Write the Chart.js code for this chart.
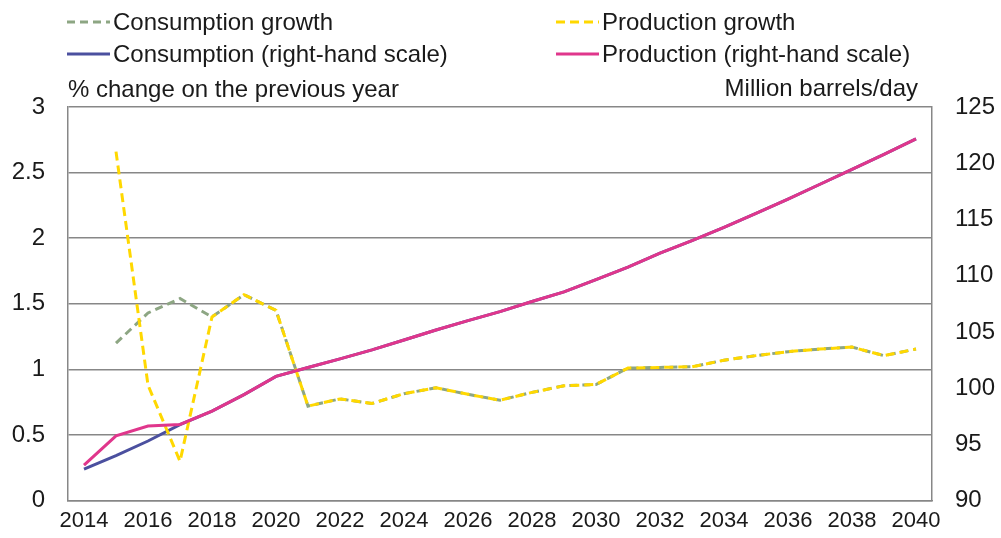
<!DOCTYPE html>
<html>
<head>
<meta charset="utf-8">
<script src="https://cdn.jsdelivr.net/npm/chart.js@4.4.1/dist/chart.umd.min.js"></script>
<style>
  html, body { margin: 0; padding: 0; background: #fff; }
  #wrap { width: 1001px; height: 538px; }
</style>
</head>
<body>
<div id="wrap"><canvas id="oilChart" width="1001" height="538"></canvas></div>
<script>
// categories
const years = ['2014', '2015', '2016', '2017', '2018', '2019', '2020', '2021', '2022',
  '2023', '2024', '2025', '2026', '2027', '2028', '2029', '2030', '2031', '2032',
  '2033', '2034', '2035', '2036', '2037', '2038', '2039', '2040'];
const shownYears = ['2014', '2016', '2018', '2020', '2022', '2024', '2026', '2028',
  '2030', '2032', '2034', '2036', '2038', '2040'];

// % change on the previous year (left scale)
const consumptionGrowth = [null, 1.20, 1.43, 1.54, 1.40, 1.57, 1.45, 0.72, 0.775, 0.74,
  0.815, 0.86, 0.81, 0.765, 0.825, 0.875, 0.885, 1.01, 1.015, 1.02, 1.07, 1.105,
  1.135, 1.155, 1.17, 1.105, 1.155];
const productionGrowth = [null, 2.66, 0.88, 0.30, 1.40, 1.57, 1.45, 0.72, 0.775, 0.74,
  0.815, 0.86, 0.81, 0.765, 0.825, 0.875, 0.885, 1.01, 1.015, 1.02, 1.07, 1.105,
  1.135, 1.155, 1.17, 1.105, 1.155];

// million barrels/day (right scale)
const consumption = [92.8, 94.0, 95.3, 96.75, 97.95, 99.42, 101.05, 101.84, 102.6, 103.4,
  104.28, 105.17, 106.0, 106.8, 107.7, 108.56, 109.65, 110.77, 112.0, 113.12, 114.3,
  115.54, 116.8, 118.13, 119.46, 120.78, 122.17];
const production = [93.15, 95.75, 96.63, 96.77, 97.95, 99.42, 101.05, 101.84, 102.6, 103.4,
  104.28, 105.17, 106.0, 106.8, 107.7, 108.56, 109.65, 110.77, 112.0, 113.12, 114.3,
  115.54, 116.8, 118.13, 119.46, 120.78, 122.17];

const FONT = "'Liberation Sans', Arial, sans-serif";
const TEXT = '#1a1a1a';
const GRID = '#878787';

// two-column legend at the top, drawn from the datasets themselves
const legendPlugin = {
  id: 'gridLegend',
  afterDraw(chart) {
    const ctx = chart.ctx;
    const cols = [67, 556];
    const rows = [22, 54];
    ctx.save();
    ctx.font = '24px ' + FONT;
    ctx.textBaseline = 'middle';
    chart.data.datasets.forEach((ds, i) => {
      const x = cols[i % 2];
      const y = rows[Math.floor(i / 2)];
      ctx.beginPath();
      ctx.strokeStyle = ds.borderColor;
      ctx.lineWidth = ds.borderWidth;
      ctx.setLineDash(ds.borderDash || []);
      ctx.moveTo(x, y);
      ctx.lineTo(x + 43, y);
      ctx.stroke();
      ctx.setLineDash([]);
      ctx.fillStyle = TEXT;
      ctx.textAlign = 'left';
      ctx.fillText(ds.label, x + 46, y + 1);
    });
    ctx.restore();
  }
};

// unit captions above the plot
const captionPlugin = {
  id: 'captions',
  afterDraw(chart) {
    const ctx = chart.ctx;
    const area = chart.chartArea;
    ctx.save();
    ctx.font = '24px ' + FONT;
    ctx.fillStyle = TEXT;
    ctx.textBaseline = 'middle';
    ctx.textAlign = 'left';
    ctx.fillText('% change on the previous year', area.left, 90);
    ctx.textAlign = 'right';
    ctx.fillText('Million barrels/day', area.right - 14, 89);
    ctx.restore();
  }
};

new Chart(document.getElementById('oilChart'), {
  type: 'line',
  data: {
    labels: years,
    datasets: [
      {
        label: 'Consumption growth',
        data: consumptionGrowth,
        yAxisID: 'y',
        borderColor: '#8DA683',
        borderDash: [8, 5],
        borderWidth: 3,
        order: 3
      },
      {
        label: 'Production growth',
        data: productionGrowth,
        yAxisID: 'y',
        borderColor: '#FFD800',
        borderDash: [9, 5],
        borderWidth: 3,
        order: 1
      },
      {
        label: 'Consumption (right-hand scale)',
        data: consumption,
        yAxisID: 'y2',
        borderColor: '#4B509F',
        borderWidth: 3,
        order: 2
      },
      {
        label: 'Production (right-hand scale)',
        data: production,
        yAxisID: 'y2',
        borderColor: '#E0368C',
        borderWidth: 3,
        order: 0
      }
    ]
  },
  options: {
    responsive: false,
    animation: false,
    layout: { padding: { top: 107, left: 0, right: 0, bottom: 0 } },
    elements: {
      point: { radius: 0 },
      line: { tension: 0, fill: false, borderCapStyle: 'butt' }
    },
    plugins: {
      legend: { display: false },
      tooltip: { enabled: false }
    },
    scales: {
      x: {
        type: 'category',
        offset: true,
        grid: { display: false, drawTicks: false },
        border: { display: true, color: GRID, width: 1.5 },
        ticks: {
          autoSkip: false,
          maxRotation: 0,
          padding: 7,
          color: TEXT,
          font: { family: FONT, size: 22 },
          callback: function(value) {
            const lbl = this.getLabelForValue(value);
            return shownYears.includes(lbl) ? lbl : '';
          }
        },
        afterFit: (scale) => { scale.height = 35; }
      },
      y: {
        position: 'left',
        min: 0,
        max: 3,
        grid: { color: GRID, lineWidth: 1.5, drawTicks: false },
        border: { display: true, color: GRID, width: 1.5 },
        ticks: {
          stepSize: 0.5,
          padding: 23,
          color: TEXT,
          font: { family: FONT, size: 24 },
          callback: (v) => String(Math.round(v * 10) / 10)
        },
        afterFit: (scale) => { scale.width = 68; }
      },
      y2: {
        position: 'right',
        min: 90,
        max: 125,
        grid: { display: false, drawTicks: false },
        border: { display: true, color: GRID, width: 1.5 },
        ticks: {
          stepSize: 5,
          padding: 23,
          color: TEXT,
          font: { family: FONT, size: 24 }
        },
        afterFit: (scale) => { scale.width = 69; }
      }
    }
  },
  plugins: [legendPlugin, captionPlugin]
});
</script>
</body>
</html>
